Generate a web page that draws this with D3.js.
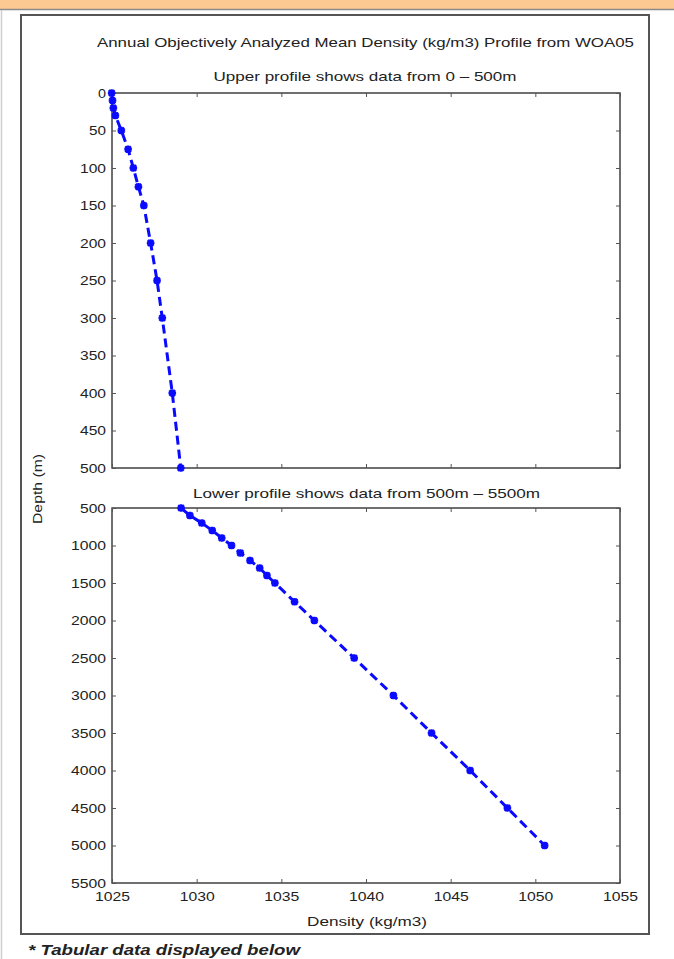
<!DOCTYPE html>
<html><head><meta charset="utf-8">
<script src="https://cdn.jsdelivr.net/npm/d3@7"></script>
<style>
html,body{margin:0;padding:0;background:#fff;}
svg{display:block;}
text{font-family:"Liberation Sans",Arial,Helvetica,sans-serif;fill:#222;}
</style></head>
<body><svg id="c" width="674" height="959"></svg>
<script>
// ---- data ----
const titleText = "Annual Objectively Analyzed Mean Density (kg/m3) Profile from WOA05";
const upperTitle = "Upper profile shows data from 0 \u2013 500m";
const lowerTitle = "Lower profile shows data from 500m \u2013 5500m";
const xLabel = "Density (kg/m3)";
const yLabel = "Depth (m)";
const note = "* Tabular data displayed below";

const xTicks = [1025, 1030, 1035, 1040, 1045, 1050, 1055];
const upperTicks = [0, 50, 100, 150, 200, 250, 300, 350, 400, 450, 500];
const lowerTicks = [500, 1000, 1500, 2000, 2500, 3000, 3500, 4000, 4500, 5000, 5500];

const upperDepth = [0, 10, 20, 30, 50, 75, 100, 125, 150, 200, 250, 300, 400, 500];
const upperDensity = [1024.98, 1025.03, 1025.08, 1025.2, 1025.55, 1025.95, 1026.26, 1026.56, 1026.88, 1027.28, 1027.66, 1027.97, 1028.56, 1029.06];

const lowerDepth = [500, 600, 700, 800, 900, 1000, 1100, 1200, 1300, 1400, 1500, 1750, 2000, 2500, 3000, 3500, 4000, 4500, 5000];
const lowerDensity = [1029.08, 1029.6, 1030.3, 1030.92, 1031.48, 1032.06, 1032.58, 1033.15, 1033.72, 1034.15, 1034.62, 1035.78, 1036.95, 1039.3, 1041.62, 1043.87, 1046.15, 1048.35, 1050.55];

// ---- drawing ----
const svg = d3.select("#c");

// page decoration
svg.append("rect").attr("x",0).attr("y",0).attr("width",674).attr("height",9).attr("fill","#fdc993");
svg.append("line").attr("x1",0).attr("x2",674).attr("y1",9.5).attr("y2",9.5).attr("stroke","#8a8a8a").attr("stroke-width",1.5);
svg.append("line").attr("x1",1.5).attr("x2",1.5).attr("y1",10).attr("y2",959).attr("stroke","#cfcfcf").attr("stroke-width",1.5);
svg.append("rect").attr("x",21).attr("y",15).attr("width",628).attr("height",919)
  .attr("fill","#fff").attr("stroke","#555").attr("stroke-width",2);

const L = 112, R = 620;
const x = d3.scaleLinear().domain([1025, 1055]).range([L, R]);
const yU = d3.scaleLinear().domain([0, 500]).range([93, 468]);
const yL = d3.scaleLinear().domain([500, 5500]).range([508, 883]);

function panel(y, ticks, depth, dens, showX) {
  const [y0, y1] = y.range();
  const g = svg.append("g");
  g.append("rect").attr("x", L).attr("y", y0).attr("width", R - L).attr("height", y1 - y0)
    .attr("fill", "#fff").attr("stroke", "#333").attr("stroke-width", 1.4);

  const left = g.append("g").attr("transform", `translate(${L},0)`)
    .call(d3.axisLeft(y).tickValues(ticks).tickSize(-4).tickPadding(6).tickFormat(d3.format("d")));
  const right = g.append("g").attr("transform", `translate(${R},0)`)
    .call(d3.axisRight(y).tickValues(ticks).tickSize(-4).tickFormat(""));
  const top = g.append("g").attr("transform", `translate(0,${y0})`)
    .call(d3.axisTop(x).tickValues(xTicks).tickSize(-4).tickFormat(""));
  const bot = g.append("g").attr("transform", `translate(0,${y1})`)
    .call(d3.axisBottom(x).tickValues(xTicks).tickSize(-4).tickPadding(9).tickFormat(showX ? d3.format("d") : ""));
  [left, right, top, bot].forEach(a => {
    a.select(".domain").remove();
    a.selectAll(".tick line").attr("stroke", "#555").attr("stroke-width", 1);
    a.selectAll(".tick text").attr("font-size", 13)
      .attr("fill", "#222").style("font-family", '"Liberation Sans",Arial,sans-serif')
      .each(function () {
        const t = d3.select(this), s = t.text();
        if (s.length) t.attr("textLength", 9 * s.length - 1).attr("lengthAdjust", "spacingAndGlyphs");
      });
  });

  const pts = depth.map((d, i) => [dens[i], d]);
  const line = d3.line().x(d => x(d[0])).y(d => y(d[1]));
  g.append("path").attr("d", line(pts)).attr("fill", "none").attr("stroke", "#0a0aff")
    .attr("stroke-width", 3).attr("stroke-dasharray", "9,5");
  const s = 3.8;
  g.selectAll(".mk").data(pts).enter().append("path")
    .attr("transform", d => `translate(${x(d[0])},${y(d[1])})`)
    .attr("d", `M${-s},0L${s},0M0,${-s}L0,${s}M${-s*0.75},${-s*0.75}L${s*0.75},${s*0.75}M${-s*0.75},${s*0.75}L${s*0.75},${-s*0.75}`)
    .attr("stroke", "#0a0aff").attr("stroke-width", 2.4).attr("fill", "none");
}

panel(yU, upperTicks, upperDepth, upperDensity, false);
panel(yL, lowerTicks, lowerDepth, lowerDensity, true);

function label(t, cx, cy, size, len) {
  return svg.append("text").attr("x", cx).attr("y", cy).attr("text-anchor", "middle")
    .attr("dominant-baseline", "central").attr("font-size", size)
    .attr("textLength", len).attr("lengthAdjust", "spacingAndGlyphs").text(t);
}
label(titleText, 365.5, 42, 13, 537);
label(upperTitle, 365, 76, 13, 303);
label(lowerTitle, 366.5, 493, 13, 347);
label(xLabel, 367, 921, 13, 120);
svg.append("text").attr("transform", "translate(37,489) rotate(-90)").attr("text-anchor", "middle")
  .attr("dominant-baseline", "central").attr("font-size", 13).attr("textLength", 70)
  .attr("lengthAdjust", "spacingAndGlyphs").text(yLabel);
svg.append("text").attr("x", 28).attr("y", 955).attr("font-size", 14).attr("font-weight", "bold")
  .attr("font-style", "italic").attr("fill", "#111").attr("textLength", 272)
  .attr("lengthAdjust", "spacingAndGlyphs").text(note);
</script></body></html>
